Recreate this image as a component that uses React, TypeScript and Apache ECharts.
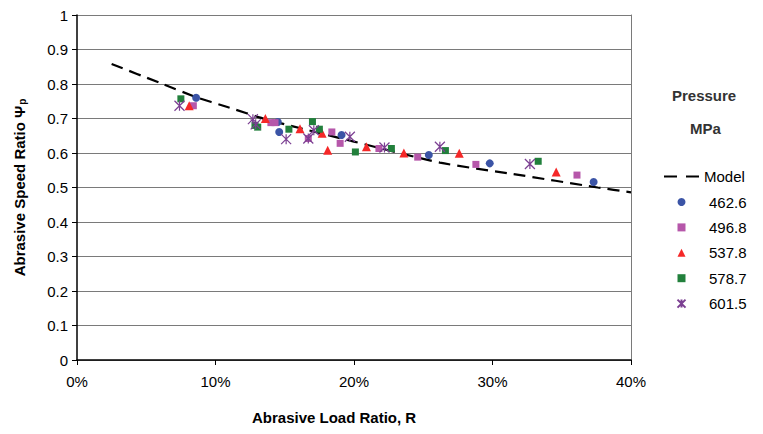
import React, { useEffect, useRef } from "react";
import * as echarts from "echarts";

// Abrasive load ratio R (%) and abrasive speed ratio for each pressure series
const modelR = [2.5, 6.0, 8.6, 10.8, 13.7, 20.0, 26.2, 31.5, 37.6, 40.0];
const modelPsi = [0.858, 0.803, 0.762, 0.734, 0.697, 0.633, 0.572, 0.539, 0.5, 0.486];

const p4626R = [8.6, 14.5, 14.6, 19.1, 25.4, 29.8, 37.3];
const p4626Psi = [0.76, 0.69, 0.661, 0.652, 0.594, 0.57, 0.516];

const p4968R = [8.4, 14.0, 14.3, 16.7, 18.4, 19.0, 21.8, 24.6, 28.8, 36.1];
const p4968Psi = [0.737, 0.688, 0.688, 0.642, 0.661, 0.628, 0.613, 0.588, 0.567, 0.536];

const p5378R = [8.1, 13.6, 16.1, 17.7, 18.1, 20.9, 23.6, 27.6, 34.6];
const p5378Psi = [0.737, 0.7, 0.67, 0.657, 0.608, 0.618, 0.6, 0.599, 0.545];

const p5787R = [7.5, 12.85, 13.05, 15.3, 17.0, 17.5, 20.1, 22.7, 26.6, 33.3];
const p5787Psi = [0.757, 0.68, 0.675, 0.669, 0.691, 0.669, 0.603, 0.613, 0.607, 0.576];

const p6015R = [7.4, 12.7, 12.9, 15.1, 16.7, 17.1, 19.7, 22.2, 26.2, 32.7];
const p6015Psi = [0.737, 0.698, 0.683, 0.64, 0.642, 0.666, 0.647, 0.616, 0.618, 0.568];

const seriesNames = ["Model", "462.6", "496.8", "537.8", "578.7", "601.5"];
const yTicks = { min: 0, max: 1, interval: 0.1 };
const xTicks = { min: 0, max: 40, interval: 10 };

const pair = (xs: number[], ys: number[]) => xs.map((x, i) => [x, ys[i]]);

const FONT = "Liberation Sans, Arial, sans-serif";

export default function App() {
  const ref = useRef<HTMLDivElement>(null);
  useEffect(() => {
    document.body.style.margin = "0";
    if (!ref.current) return;
    const chart = echarts.init(ref.current, null, { renderer: "svg" });
    const asterisk = "path://M0,0L10,10M10,0L0,10M5,0L5,10";
    chart.setOption({
      animation: false,
      backgroundColor: "#fff",
      textStyle: { fontFamily: FONT },
      grid: { left: 77, top: 15, right: 132, bottom: 74 },
      xAxis: {
        type: "value",
        min: xTicks.min,
        max: xTicks.max,
        interval: xTicks.interval,
        axisLine: { show: true, onZero: false, lineStyle: { color: "#000", width: 1.5 } },
        axisTick: { show: true, length: 5, lineStyle: { color: "#000" } },
        axisLabel: { formatter: (v: number) => `${v}%`, color: "#000", fontSize: 15, margin: 14, fontFamily: FONT },
        splitLine: { show: false },
      },
      yAxis: [
        {
          type: "value",
          min: yTicks.min,
          max: yTicks.max,
          interval: yTicks.interval,
          name: "Abrasive Speed Ratio Ψ{sub|p}",
          nameLocation: "middle",
          nameGap: 50,
          nameTextStyle: {
            fontSize: 15,
            fontWeight: "bold",
            color: "#000",
            fontFamily: FONT,
            rich: { sub: { fontSize: 10, fontWeight: "bold", verticalAlign: "bottom", padding: [6, 0, 0, 1] } },
          },
          axisLine: { show: true, lineStyle: { color: "#000", width: 1.5 } },
          axisTick: { show: true, length: 5, lineStyle: { color: "#000" } },
          axisLabel: { color: "#000", fontSize: 15, margin: 9, fontFamily: FONT },
          splitLine: { show: true, lineStyle: { color: "#7a7a7a", width: 1 } },
        },
        {
          type: "value",
          min: yTicks.min,
          max: yTicks.max,
          interval: yTicks.interval,
          position: "right",
          axisLine: { show: true, lineStyle: { color: "#7a7a7a", width: 1 } },
          axisTick: { show: false },
          axisLabel: { show: false },
          splitLine: { show: false },
        },
      ],
      legend: [
        {
          orient: "vertical",
          left: 658,
          top: 164,
          itemWidth: 35,
          itemHeight: 8,
          selectedMode: false,
          data: [
            {
              name: seriesNames[0],
              itemStyle: { opacity: 0 },
              lineStyle: { color: "#000", width: 2, type: [13, 9] },
            },
          ],
          textStyle: { fontSize: 15, color: "#000", fontFamily: FONT, lineHeight: 15 },
        },
        {
          orient: "vertical",
          left: 671.5,
          top: 189.5,
          itemWidth: 8,
          itemHeight: 8,
          itemGap: 10.4,
          selectedMode: false,
          data: seriesNames.slice(1),
          formatter: (name: string) => `{g|}${name}`,
          textStyle: {
            fontSize: 15,
            color: "#000",
            fontFamily: FONT,
            lineHeight: 15,
            rich: { g: { width: 18.5 } },
          },
        },
      ],
      graphic: [
        { type: "text", left: 672, top: 88, style: { text: "Pressure", font: `bold 15px ${FONT}`, fill: "#333" } },
        { type: "text", left: 690, top: 121, style: { text: "MPa", font: `bold 15px ${FONT}`, fill: "#333" } },
        { type: "text", left: 252, top: 410, style: { text: "Abrasive Load Ratio, R", font: `bold 15px ${FONT}`, fill: "#000" } },
      ],
      series: [
        {
          name: seriesNames[0],
          type: "line",
          data: pair(modelR, modelPsi),
          symbol: "none",
          smooth: 0.2,
          lineStyle: { color: "#000", width: 2.2, type: [12, 7] },
          itemStyle: { color: "#000" },
          z: 3,
        },
        {
          name: seriesNames[1],
          type: "scatter",
          data: pair(p4626R, p4626Psi),
          symbol: "circle",
          symbolSize: 8,
          itemStyle: { color: "#3b54a6", opacity: 1 },
          z: 4,
        },
        {
          name: seriesNames[2],
          type: "scatter",
          data: pair(p4968R, p4968Psi),
          symbol: "rect",
          symbolSize: 7,
          itemStyle: { color: "#b657aa", opacity: 1 },
          z: 4,
        },
        {
          name: seriesNames[3],
          type: "scatter",
          data: pair(p5378R, p5378Psi),
          symbol: "triangle",
          symbolSize: 9,
          itemStyle: { color: "#f52828", opacity: 1 },
          z: 4,
        },
        {
          name: seriesNames[4],
          type: "scatter",
          data: pair(p5787R, p5787Psi),
          symbol: "rect",
          symbolSize: 7,
          itemStyle: { color: "#22803c", opacity: 1 },
          z: 4,
        },
        {
          name: seriesNames[5],
          type: "scatter",
          data: pair(p6015R, p6015Psi),
          symbol: asterisk,
          symbolSize: 10,
          itemStyle: { color: "rgba(0,0,0,0)", borderColor: "#7b3f92", borderWidth: 1.2, opacity: 1 },
          z: 5,
        },
      ],
    });
    return () => chart.dispose();
  }, []);
  return <div ref={ref} style={{ width: 763, height: 434 }} />;
}
